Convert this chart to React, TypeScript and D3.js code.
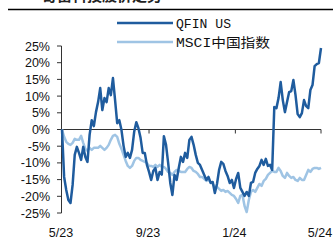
import React from "react";
import * as d3 from "d3";

// one reading every 3 days, starting 2023-05-01
const startDate = new Date(2023, 4, 1);
const endDate = new Date(2024, 4, 1);

const qfinValues = [
  0, -14.2, -18.1, -21.1, -22.0, -16.6, -7.6, -5.2, -7.0, -9.1,
  -5.2, -8.2, -9.7, -1.6, 2.8, 1.0, 5.2, 8.2, 12.4, 5.8,
  9.4, 8.2, 12.4, 10.3, 15.4, 8.8, 1.9, 2.8, -0.1, -4.9,
  -8.2, -7.0, -8.5, -6.1, -0.7, 2.2, 0.4, -2.5, -7.0, -7.0,
  -10.6, -12.7, -15.1, -12.4, -11.5, -15.1, -12.7, -13.5, -2.0, -4.6,
  -10.0, -16.0, -19.6, -13.6, -15.1, -11.5, -8.2, -9.7, -7.0, -8.5,
  -3.1, -2.2, -4.6, -7.6, -10.0, -10.6, -12.1, -13.6, -15.1, -14.2,
  -16.0, -15.7, -19.0, -16.3, -12.1, -9.7, -10.3, -12.4, -13.9, -16.0,
  -15.1, -17.5, -14.8, -13.0, -17.5, -18.7, -19.9, -18.7, -19.9, -16.0,
  -15.7, -13.0, -11.8, -10.9, -9.1, -10.6, -8.8, -10.9, -10.6, -12.1,
  6.7, 6.4, 9.4, 14.2, 8.8, 5.2, 8.2, 11.2, 11.5, 14.8,
  10.3, 4.6, 3.7, 4.9, 8.8, 7.0, 6.4, 11.8, 13.3, 19.0,
  19.6, 19.9, 24.4,
];

const msciValues = [
  0, -2.2, -3.7, -4.3, -4.6, -4.0, -2.8, -3.1, -3.1, -1.9,
  -4.0, -5.8, -6.4, -5.5, -6.1, -5.5, -5.5, -5.5, -4.9, -5.5,
  -6.1, -5.5, -4.6, -3.1, -1.9, -1.6, -2.2, -4.3, -5.8, -7.6,
  -9.4, -10.9, -11.5, -10.9, -9.4, -8.5, -8.5, -9.1, -9.4, -9.7,
  -10.0, -10.9, -10.9, -11.2, -10.6, -11.2, -10.6, -11.2, -11.2, -11.8,
  -12.7, -13.0, -13.6, -12.7, -12.1, -12.4, -12.7, -12.7, -12.7, -11.8,
  -11.2, -11.5, -12.4, -12.7, -13.3, -14.2, -14.2, -14.8, -15.4, -15.1,
  -15.7, -16.3, -17.2, -17.2, -17.8, -18.4, -18.1, -18.7, -18.4, -19.0,
  -19.6, -19.9, -20.8, -22.0, -19.9, -19.6, -22.9, -24.7, -21.1, -18.7,
  -18.1, -18.7, -17.5, -16.3, -16.9, -15.4, -14.8, -13.6, -13.0, -12.4,
  -12.7, -12.7, -11.5, -12.4, -13.9, -14.5, -13.0, -13.9, -14.5, -14.2,
  -15.1, -15.4, -14.5, -15.1, -15.1, -13.6, -12.1, -12.7, -11.8, -11.5,
  -11.5, -11.8, -11.5,
];

const yTicks = [25, 20, 15, 10, 5, 0, -5, -10, -15, -20, -25];
const xTickDates = [
  new Date(2023, 4, 1),
  new Date(2023, 8, 1),
  new Date(2024, 0, 1),
  new Date(2024, 4, 1),
];
const xTickLabels = ["5/23", "9/23", "1/24", "5/24"];

const seriesNames = ["QFIN US", "MSCI中国指数"];
const seriesColors = ["#1f5c9e", "#9fc4e4"];
const chartTitle = "奇富科技股价走势";

const W = 333;
const H = 240;
const margin = { top: 46, right: 12, bottom: 27, left: 62 };

const App = () => {
  const dates = qfinValues.map((_, i) => d3.timeDay.offset(startDate, i * 3));

  const x = d3.scaleTime()
    .domain([startDate, endDate])
    .range([margin.left, W - margin.right]);

  const y = d3.scaleLinear()
    .domain([-25, 25])
    .range([H - margin.bottom, margin.top]);

  const line = d3.line<number>()
    .x((_, i) => x(dates[i]))
    .y(d => y(d))
    .curve(d3.curveLinear);

  const axisColor = "#333";
  const tickFont = "'Liberation Sans', Arial, sans-serif";
  const legendFont = "'Liberation Mono', 'Noto Sans CJK SC', monospace";

  return (
    <svg
      width={W}
      height={H}
      style={{ position: "absolute", left: 0, top: 0, background: "#fff" }}
    >
      {/* title, mostly cut off above the frame like in the source */}
      <text x={42} y={0.5} fontSize={15} fontWeight="bold"
        fontFamily="'Noto Sans CJK SC', sans-serif" fill="#222">
        {chartTitle}
      </text>
      <line x1={8} x2={W} y1={9.5} y2={9.5} stroke="#000" strokeWidth={1.5} />

      {/* legend */}
      {seriesNames.map((name, i) => (
        <g key={name} transform={`translate(117,${23 + i * 19})`}>
          <line x1={0} x2={56} y1={0} y2={0} stroke={seriesColors[i]} strokeWidth={2.5} />
          <text x={59} y={4.5} fontSize={13} fontFamily={legendFont} fill="#111"
            textLength={i === 0 ? 55 : 94} lengthAdjust="spacingAndGlyphs">
            {name}
          </text>
        </g>
      ))}

      {/* y axis */}
      <line x1={margin.left - 0.5} x2={margin.left - 0.5}
        y1={y(25)} y2={y(-25)} stroke={axisColor} strokeWidth={1} />
      {yTicks.map(t => (
        <g key={t}>
          <line x1={margin.left - 5} x2={margin.left - 0.5}
            y1={y(t)} y2={y(t)} stroke={axisColor} strokeWidth={1} />
          <text x={50} y={y(t) + 4.5} textAnchor="end" fontSize={12.5}
            fontFamily={tickFont} fill="#111">
            {`${t}%`}
          </text>
        </g>
      ))}

      {/* zero line with ticks */}
      <line x1={margin.left - 0.5} x2={x(endDate)} y1={y(0)} y2={y(0)}
        stroke={axisColor} strokeWidth={1.2} />
      {xTickDates.map((d, i) => (
        <g key={i}>
          {i > 0 && (
            <line x1={x(d)} x2={x(d)} y1={y(0)} y2={y(0) + 4}
              stroke={axisColor} strokeWidth={1} />
          )}
          <text x={x(d) - 1} y={237} textAnchor="middle" fontSize={12.5}
            fontFamily={tickFont} fill="#111">
            {xTickLabels[i]}
          </text>
        </g>
      ))}

      {/* series */}
      <path d={line(msciValues) ?? ""} fill="none" stroke={seriesColors[1]}
        strokeWidth={2.5} strokeLinejoin="round" />
      <path d={line(qfinValues) ?? ""} fill="none" stroke={seriesColors[0]}
        strokeWidth={2.5} strokeLinejoin="round" />
    </svg>
  );
};

export default App;
